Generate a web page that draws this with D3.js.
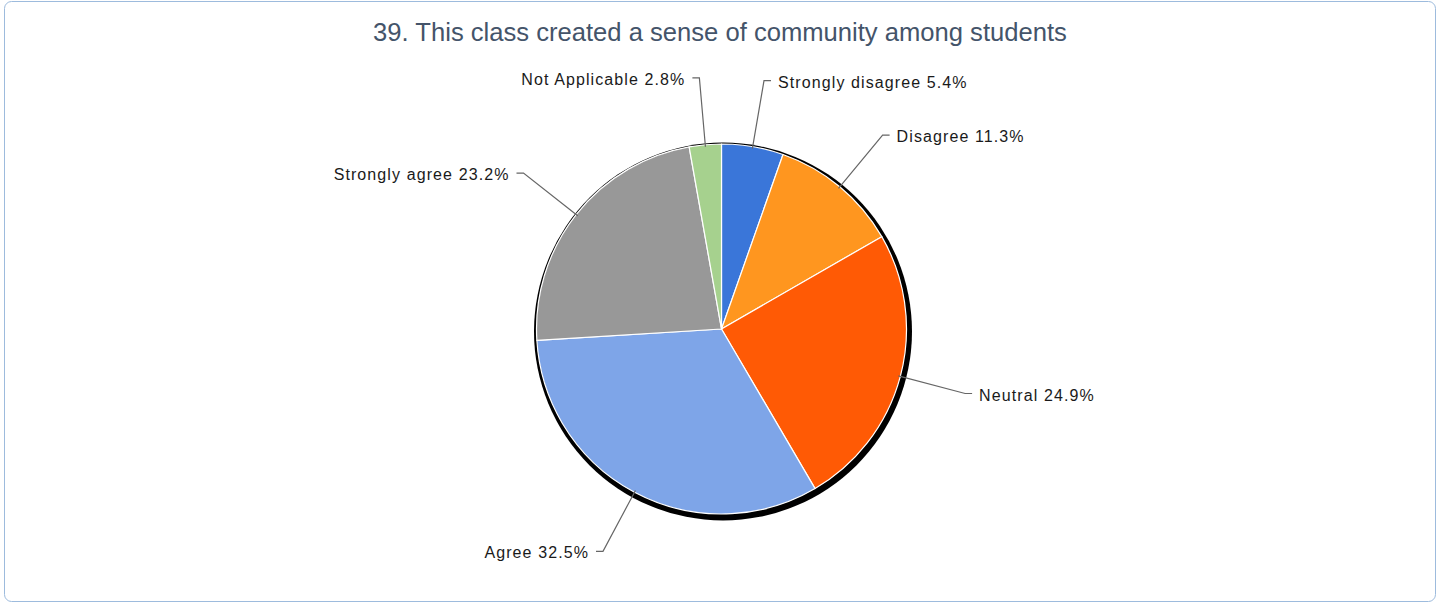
<!DOCTYPE html>
<html>
<head>
<meta charset="utf-8">
<script src="https://cdn.jsdelivr.net/npm/d3@7"></script>
<style>
  html, body { margin: 0; padding: 0; background: #fff; }
  svg { display: block; }
</style>
</head>
<body>
<svg id="chart" width="1437" height="603"></svg>
<script>
const title = "39. This class created a sense of community among students";
const categories = ["Strongly disagree", "Disagree", "Neutral", "Agree", "Strongly agree", "Not Applicable"];
const values = [5.4, 11.3, 24.9, 32.5, 23.2, 2.8];
const labels = ["5.4%", "11.3%", "24.9%", "32.5%", "23.2%", "2.8%"];
const colors = ["#3a76d9", "#ff961f", "#ff5a05", "#7ea5e8", "#989898", "#a6d18e"];

const W = 1437, H = 603;
const svg = d3.select("#chart");

svg.append("rect")
  .attr("x", 4.5).attr("y", 1.5)
  .attr("width", W - 6).attr("height", H - 3)
  .attr("rx", 7).attr("ry", 7)
  .attr("fill", "#fff")
  .attr("stroke", "#9dbbdd").attr("stroke-width", 1);

svg.append("text")
  .attr("x", 720).attr("y", 41)
  .attr("text-anchor", "middle")
  .attr("font-family", "Liberation Sans, Arial, sans-serif")
  .attr("font-size", 25.6)
  .attr("fill", "#44546a")
  .text(title);

const cx = 721.5, cy = 329, r = 185;
const data = categories.map((c, i) => ({ cat: c, value: values[i], label: labels[i], color: colors[i] }));

const pie = d3.pie().value(d => d.value).sort(null);
const arcs = pie(data);
const arc = d3.arc().innerRadius(0).outerRadius(r);

// shadow
svg.append("circle")
  .attr("cx", cx + 1.5).attr("cy", cy + 2.5).attr("r", r + 4)
  .attr("fill", "#000");

const g = svg.append("g").attr("transform", `translate(${cx},${cy})`);
g.selectAll("path.slice").data(arcs).enter().append("path")
  .attr("class", "slice")
  .attr("d", arc)
  .attr("fill", d => d.data.color)
  .attr("stroke", "#fff").attr("stroke-width", 1.2)
  .attr("stroke-linejoin", "round");

// leader lines and labels
const rBend = 252;
arcs.forEach(d => {
  const a = (d.startAngle + d.endAngle) / 2;
  const p0 = [Math.sin(a) * (r - 2), -Math.cos(a) * (r - 2)];
  const p1 = [Math.sin(a) * rBend, -Math.cos(a) * rBend];
  const side = Math.sin(a) >= 0 ? 1 : -1;
  const p2 = [p1[0] + side * 7, p1[1]];
  g.append("polyline")
    .attr("points", [p0, p1, p2].map(p => p.join(",")).join(" "))
    .attr("fill", "none")
    .attr("stroke", "#666").attr("stroke-width", 1.2);
  g.append("text")
    .attr("x", p2[0] + side * 7)
    .attr("y", p2[1] + 1.5)
    .attr("dy", "0.35em")
    .attr("text-anchor", side > 0 ? "start" : "end")
    .attr("font-family", "Liberation Sans, Arial, sans-serif")
    .attr("font-size", 16)
    .attr("letter-spacing", 1.1)
    .attr("fill", "#1a1a1a")
    .text(d.data.cat + " " + d.data.label);
});
</script>
</body>
</html>
